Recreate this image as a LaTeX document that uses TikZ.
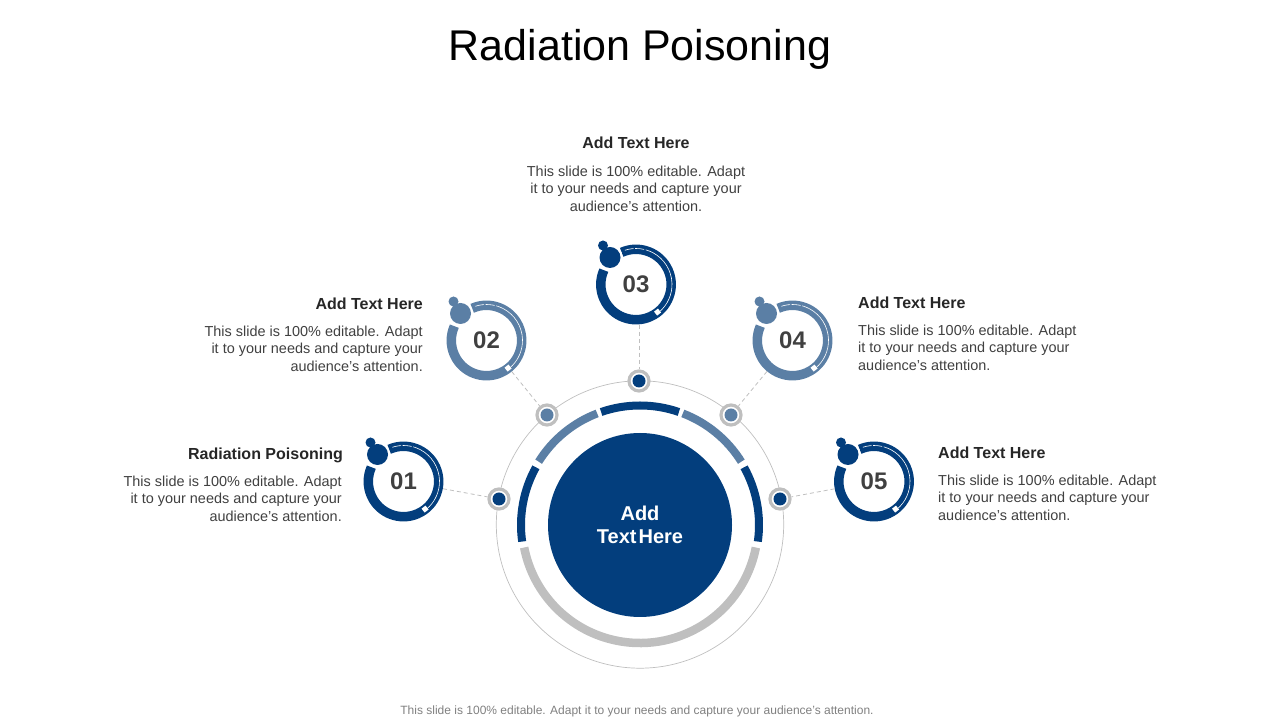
\documentclass[tikz,border=0pt]{standalone}
\usepackage{fontspec}
\setmainfont{Liberation Sans}
\definecolor{navy}{HTML}{033E7D}
\definecolor{steel}{HTML}{5B7FA5}
\definecolor{ashgray}{HTML}{BFBFBF}
\colorlet{numgray}{black!75}
\tikzset{
  pics/badge/.style 2 args={code={
    \draw[#2,line width=9.5pt] (114:35.2) arc (114:-204:35.2);
    \draw[white,line width=0.6pt,dash pattern=on 9pt off 1.5pt] (108:36) arc (108:62:36);
    \draw[white,line width=0.6pt] (62:36) arc (62:-50:36);
    \fill[white,rotate=-52] (35,0) +(-2.5,-2.5) rectangle +(2.5,2.5);
    \fill[white] (-26,27) circle (12.5);
    \fill[#2] (-33,39) circle (5);
    \fill[#2] (-26,27) circle (10.5);
    \node[circle,minimum size=80pt,inner sep=0pt,text=numgray,font=\bfseries\fontsize{24}{24}\selectfont] (-num) at (0,0) {#1};
  }}
}
\begin{document}
\begin{tikzpicture}[x=1pt,y=1pt,
    heading/.style={inner sep=0pt,text=black!85,font=\bfseries\fontsize{16}{18}\selectfont},
    bodytext/.style={inner sep=0pt,text=black!75,font=\fontsize{14.45}{17.5}\selectfont},
    spot/.style={circle,draw=ashgray,line width=3.2pt,fill=white,minimum size=20pt,inner sep=0pt},
    link/.style={ashgray,dash pattern=on 4pt off 3pt,line width=0.8pt},
    segment/.style={line width=8pt}]
  \useasboundingbox (0,0) rectangle (1280,720);
  \node[inner sep=0pt,font=\fontsize{43}{50}\selectfont] (title) at (640,671) {Radiation Poisoning};
  % centre
  \draw[ashgray,line width=0.7pt] (640,195.5) circle (143.7);
  \node[circle,fill=navy,minimum size=184pt,inner sep=0pt,text=white,align=center,
    font=\bfseries\fontsize{20}{23}\selectfont] (hub) at (640,195) {Add\\Text\hspace{-3.5pt} Here};
  \draw[navy,segment] (640,195) ++(71:119.5) arc (71:109:119.5);
  \draw[steel,segment] (640,195) ++(32:119.5) arc (32:69:119.5);
  \draw[steel,segment] (640,195) ++(111:119.5) arc (111:148:119.5);
  \draw[navy,segment] (640,195) ++(-8:119) arc (-8:29:119);
  \draw[navy,segment] (640,195) ++(151:119) arc (151:188:119);
  \draw[ashgray,line width=8.5pt] (640,195) ++(-11:118) arc (-11:-169:118);
  % spots on the ring
  \node[spot] (d1) at (499,221) {};
  \node[spot] (d2) at (547,305) {};
  \node[spot] (d3) at (639,339) {};
  \node[spot] (d4) at (731,305) {};
  \node[spot] (d5) at (780,221) {};
  \fill[navy] (d1) circle (6.5);
  \fill[steel] (d2) circle (6.5);
  \fill[navy] (d3) circle (6.5);
  \fill[steel] (d4) circle (6.5);
  \fill[navy] (d5) circle (6.5);
  % numbered badges
  \pic (b1) at (403.5,238.5) {badge={01}{navy}};
  \pic (b2) at (486.5,379.5) {badge={02}{steel}};
  \pic (b3) at (636,435.5) {badge={03}{navy}};
  \pic (b4) at (792.5,379.5) {badge={04}{steel}};
  \pic (b5) at (874,238.5) {badge={05}{navy}};
  \draw[link] (b1-num) -- (d1);
  \draw[link] (b2-num) -- (d2);
  \draw[link] (b3-num.south -| d3) -- (d3);
  \draw[link] (b4-num) -- (d4);
  \draw[link] (b5-num) -- (d5);
  % text blocks
  \node[heading,anchor=east] (h1) at (343,264.5) {Radiation Poisoning};
  \node[bodytext,anchor=north east,align=right] (t1) at (342,244.5) {This slide is 100\% editable. Adapt\\it to your needs and capture your\\audience's attention.};
  \node[heading,anchor=east] (h2) at (423,416.5) {Add Text Here};
  \node[bodytext,anchor=north east,align=right] (t2) at (423,394.5) {This slide is 100\% editable. Adapt\\it to your needs and capture your\\audience's attention.};
  \node[heading] (h3) at (636,577.5) {Add Text Here};
  \node[bodytext,align=center,anchor=north] (t3) at (636,554.5) {This slide is 100\% editable. Adapt\\it to your needs and capture your\\audience's attention.};
  \node[heading,anchor=west] (h4) at (858,417.5) {Add Text Here};
  \node[bodytext,anchor=north west,align=left] (t4) at (858,395.5) {This slide is 100\% editable. Adapt\\it to your needs and capture your\\audience's attention.};
  \node[heading,anchor=west] (h5) at (938,267.5) {Add Text Here};
  \node[bodytext,anchor=north west,align=left] (t5) at (938,245.5) {This slide is 100\% editable. Adapt\\it to your needs and capture your\\audience's attention.};
  \node[inner sep=0pt,text=black!50,font=\fontsize{12}{14}\selectfont] (foot) at (637,9) {This slide is 100\% editable. Adapt it to your needs and capture your audience's attention.};
\end{tikzpicture}
\end{document}
